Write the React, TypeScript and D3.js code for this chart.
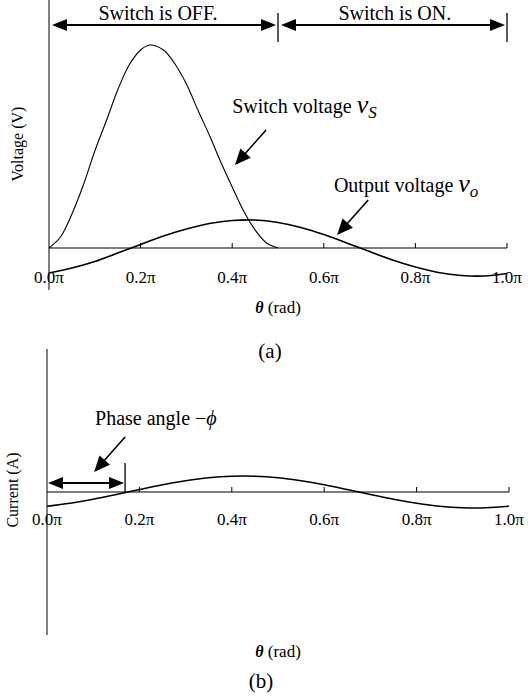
import React from 'react';
import * as d3 from 'd3';

// theta in units of pi
const vsTheta = [0, 0.025, 0.05, 0.075, 0.1, 0.125, 0.15, 0.175, 0.2, 0.22, 0.25, 0.275, 0.3, 0.325, 0.35, 0.375, 0.4, 0.425, 0.45, 0.475, 0.5];
const vsValues = [0, 0.11, 0.34, 0.63, 0.97, 1.27, 1.58, 1.83, 1.98, 2.03, 1.98, 1.84, 1.64, 1.38, 1.13, 0.86, 0.61, 0.37, 0.18, 0.05, 0];

const waveTheta = [0, 0.05, 0.1, 0.15, 0.2, 0.25, 0.3, 0.35, 0.4, 0.45, 0.5, 0.55, 0.6, 0.65, 0.7, 0.75, 0.8, 0.85, 0.9, 0.95, 1.0];
const voValues = [-0.25, -0.2, -0.135, -0.05, 0.035, 0.12, 0.19, 0.245, 0.275, 0.28, 0.255, 0.205, 0.135, 0.05, -0.035, -0.12, -0.19, -0.245, -0.275, -0.28, -0.255];
const iValues = [-0.143, -0.113, -0.073, -0.025, 0.025, 0.073, 0.113, 0.143, 0.158, 0.158, 0.143, 0.113, 0.073, 0.025, -0.025, -0.073, -0.113, -0.143, -0.158, -0.158, -0.143];

const xTicks = [0, 0.2, 0.4, 0.6, 0.8, 1.0];
const xTickLabels = ['0.0π', '0.2π', '0.4π', '0.6π', '0.8π', '1.0π'];

const phaseAngle = 0.169;
const switchOffAt = 0.5;

const serif = "'Liberation Serif', 'Times New Roman', Times, serif";

const head = (tx: number, ty: number, fx: number, fy: number, len = 15, hw = 6) => {
  const dx = tx - fx, dy = ty - fy;
  const d = Math.sqrt(dx * dx + dy * dy);
  const ux = dx / d, uy = dy / d;
  const bx = tx - ux * len, by = ty - uy * len;
  return `${tx},${ty} ${bx - uy * hw},${by + ux * hw} ${bx + uy * hw},${by - ux * hw}`;
};

const Arrow = ({ x1, y1, x2, y2, w = 1.6 }: any) => (
  <g>
    <line x1={x1} y1={y1} x2={x2 - (x2 - x1) * 0.25} y2={y2 - (y2 - y1) * 0.25} stroke="#000" strokeWidth={w} />
    <polygon points={head(x2, y2, x1, y1, 16, 7)} fill="#000" />
  </g>
);

const DoubleArrow = ({ x1, x2, y }: any) => (
  <g>
    <line x1={x1 + 8} x2={x2 - 8} y1={y} y2={y} stroke="#000" strokeWidth={2} />
    <polygon points={head(x1, y, x2, y, 15, 6)} fill="#000" />
    <polygon points={head(x2, y, x1, y, 15, 6)} fill="#000" />
  </g>
);

const App = () => {
  const width = 528;
  const height = 699;

  // top panel
  const xA = d3.scaleLinear().domain([0, 1]).range([49, 507]);
  const yA = d3.scaleLinear().domain([-0.42, 2.48]).range([290, 0]);
  // bottom panel
  const xB = d3.scaleLinear().domain([0, 1]).range([47, 509]);
  const yB = d3.scaleLinear().domain([-1.43, 1.43]).range([635, 349]);

  const lineA = d3.line<[number, number]>().x(d => xA(d[0])).y(d => yA(d[1])).curve(d3.curveCatmullRom);
  const lineB = d3.line<[number, number]>().x(d => xB(d[0])).y(d => yB(d[1])).curve(d3.curveCatmullRom);

  const vsPts = vsTheta.map((t, i) => [t, vsValues[i]] as [number, number]);
  const voPts = waveTheta.map((t, i) => [t, voValues[i]] as [number, number]);
  const iPts = waveTheta.map((t, i) => [t, iValues[i]] as [number, number]);

  const axis = (x: any, y: any, yTop: number, yBot: number, labelY: number) => (
    <g>
      <line x1={x(0)} x2={x(0)} y1={yTop} y2={yBot} stroke="#000" strokeWidth={1} />
      <line x1={x(0)} x2={x(1)} y1={y(0)} y2={y(0)} stroke="#000" strokeWidth={1.2} />
      {xTicks.map((t, i) => (
        <g key={t}>
          {i > 0 && <line x1={x(t)} x2={x(t)} y1={y(0)} y2={y(0) - 5} stroke="#000" strokeWidth={1} />}
          <text x={x(t)} y={labelY} textAnchor="middle" fontSize={17}>{xTickLabels[i]}</text>
        </g>
      ))}
    </g>
  );

  return (
    <svg width={width} height={height} style={{ position: 'absolute', left: 0, top: 0, background: '#fff', fontFamily: serif }}>
      {/* (a) voltages */}
      {axis(xA, yA, 0, 290, 283)}
      <path d={lineA(vsPts) || ''} fill="none" stroke="#000" strokeWidth={1.1} />
      <path d={lineA(voPts) || ''} fill="none" stroke="#000" strokeWidth={1.6} />

      <DoubleArrow x1={xA(0) + 3} x2={xA(switchOffAt) - 2} y={yA(2.23)} />
      <line x1={xA(switchOffAt)} x2={xA(switchOffAt)} y1={yA(2.35)} y2={yA(2.06)} stroke="#000" strokeWidth={1.3} />
      <DoubleArrow x1={xA(switchOffAt) + 3} x2={xA(1) - 2} y={yA(2.23)} />
      <line x1={xA(1)} x2={xA(1)} y1={yA(2.35)} y2={yA(2.06)} stroke="#000" strokeWidth={1.3} />
      <text x={xA(0.238)} y={yA(2.28)} textAnchor="middle" fontSize={20}>Switch is OFF.</text>
      <text x={xA(0.755)} y={yA(2.28)} textAnchor="middle" fontSize={20}>Switch is ON.</text>

      <text x={xA(0.4)} y={yA(1.35)} fontSize={20}>
        Switch voltage <tspan fontStyle="italic" fontSize={26}>v</tspan><tspan fontStyle="italic" fontSize={17} dy={5}>S</tspan>
      </text>
      <Arrow x1={xA(0.474)} y1={yA(1.18)} x2={xA(0.406)} y2={yA(0.83)} />

      <text x={xA(0.622)} y={yA(0.56)} fontSize={20}>
        Output voltage <tspan fontStyle="italic" fontSize={26}>v</tspan><tspan fontStyle="italic" fontSize={17} dy={5}>o</tspan>
      </text>
      <Arrow x1={xA(0.697)} y1={yA(0.48)} x2={xA(0.629)} y2={yA(0.13)} />

      <text transform={`translate(23,144) rotate(-90)`} textAnchor="middle" fontSize={16}>Voltage (V)</text>
      <text x={278} y={313} textAnchor="middle" fontSize={17}>
        <tspan fontStyle="italic" fontWeight="bold" fontSize={16}>θ</tspan> (rad)
      </text>
      <text x={270} y={358} textAnchor="middle" fontSize={21}>(a)</text>

      {/* (b) current */}
      {axis(xB, yB, 349, 635, 525)}
      <path d={lineB(iPts) || ''} fill="none" stroke="#000" strokeWidth={1.6} />

      <DoubleArrow x1={xB(0) + 1} x2={xB(phaseAngle) - 1} y={yB(0.09)} />
      <line x1={xB(phaseAngle)} x2={xB(phaseAngle)} y1={yB(0.29)} y2={yB(0)} stroke="#000" strokeWidth={1.3} />
      <text x={xB(0.104)} y={yB(0.67)} fontSize={20}>
        Phase angle −<tspan fontStyle="italic">ϕ</tspan>
      </text>
      <Arrow x1={xB(0.169)} y1={yB(0.55)} x2={xB(0.102)} y2={yB(0.2)} />

      <text transform={`translate(18,490) rotate(-90)`} textAnchor="middle" fontSize={16}>Current (A)</text>
      <text x={278} y={657} textAnchor="middle" fontSize={17}>
        <tspan fontStyle="italic" fontWeight="bold" fontSize={16}>θ</tspan> (rad)
      </text>
      <text x={261} y={688} textAnchor="middle" fontSize={21}>(b)</text>
    </svg>
  );
};

export default App;
